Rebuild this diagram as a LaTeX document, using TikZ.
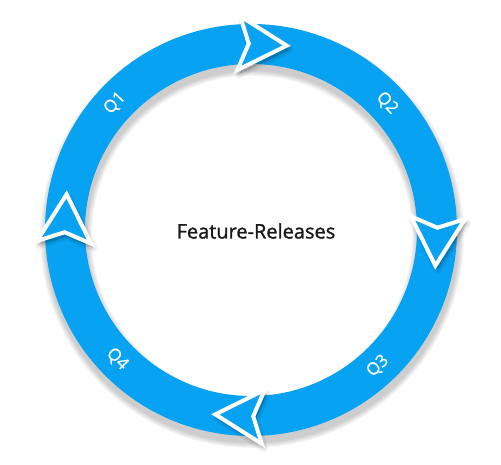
\documentclass[tikz,border=0pt]{standalone}
\usepackage{fontspec}
\setmainfont{Open Sans}
\newfontfamily\titlefont{Open Sans}[FakeBold=1.3]
\newfontfamily\qfont{Open Sans}[FakeBold=0.6]
\usepackage{tikz}
\usetikzlibrary{calc}
\definecolor{cycleblue}{RGB}{8,162,242}

\begin{document}
\begin{tikzpicture}[x=1pt, y=1pt,
  band/.style={draw=cycleblue, line width=40pt},
  chev/.style={fill=cycleblue, draw=white, line width=4pt, line join=miter},
  chevshade/.style={fill=black, draw=black, opacity=0.05, line join=round},
  qlabel/.style={text=white, font=\qfont\fontsize{17}{17}\selectfont}]
  \useasboundingbox (-251,-235) rectangle (250,230);

  % Soft shadow under the ring
  \foreach \w in {42,44,...,52}
    \draw[black, opacity=0.035, line width=\w pt] (1,-6) circle (186);

  % Ring
  \draw[band] (0,0) circle (186);

  % Arrow heads, clockwise
  \foreach \a in {90,0,-90,180} {
    \begin{scope}[shift={(2,-4)}]
      \begin{scope}[shift={(\a-3:186)}, rotate=\a-93]
        \foreach \w in {2,5,8}
          \draw[chevshade, line width=\w pt] (26,0) -- (-22,27) -- (-12,0) -- (-22,-27) -- cycle;
      \end{scope}
    \end{scope}
    \begin{scope}[shift={(\a-3:186)}, rotate=\a-93]
      \draw[chev] (26,0) -- (-22,27) -- (-12,0) -- (-22,-27) -- cycle;
    \end{scope}
  }

  % Quarter labels
  \node[qlabel, rotate=47] (q1) at (137:186) {Q1};
  \node[qlabel, rotate=-47] (q2) at (43:186) {Q2};
  \node[qlabel, rotate=43] (q3) at (-47:186) {Q3};
  \node[qlabel, rotate=-46] (q4) at (-136:186) {Q4};

  % Title
  \node[font=\titlefont\fontsize{20}{20}\selectfont, text=black!90] (title) at (5,-1) {Feature-Releases};
\end{tikzpicture}
\end{document}
